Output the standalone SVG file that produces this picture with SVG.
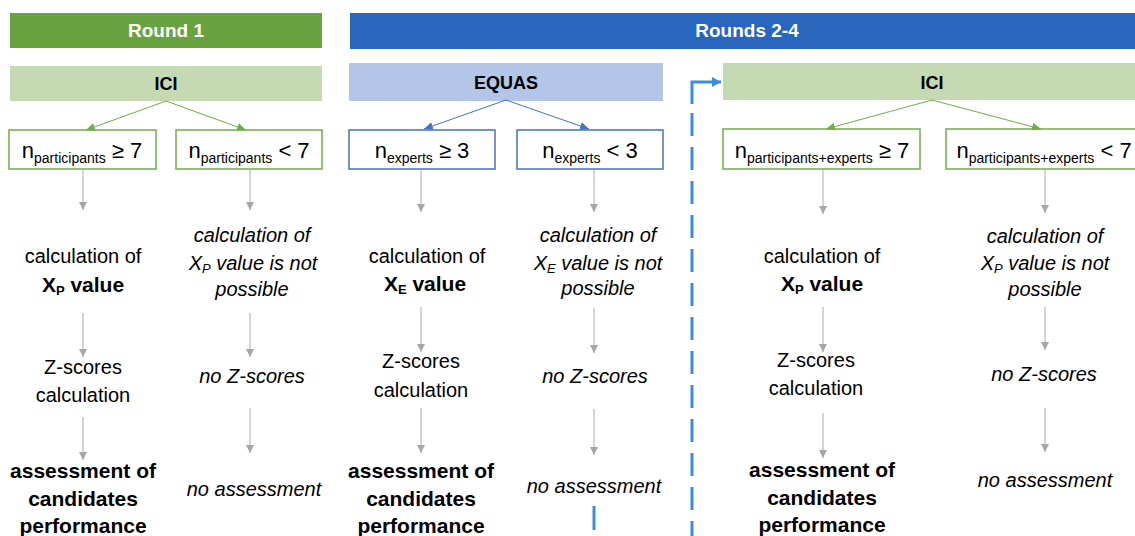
<svg xmlns="http://www.w3.org/2000/svg" width="1135" height="536" viewBox="0 0 1135 536">
<defs>
<style>
.t{font-family:"Liberation Sans",Arial,sans-serif;fill:#000;text-anchor:middle}
.r{font-size:20px}
.b{font-size:21px;font-weight:bold}
.i{font-size:20px;font-style:italic}
.hd{font-family:"Liberation Sans",Arial,sans-serif;font-size:19px;font-weight:bold;fill:#fff;text-anchor:middle}
.sh{font-family:"Liberation Sans",Arial,sans-serif;font-size:18px;font-weight:bold;fill:#000;text-anchor:middle}
.bx{font-size:22px}
.sub{font-size:14px}
.gb{fill:#fff;stroke:#70AD47;stroke-width:1.5}
.bb{fill:#fff;stroke:#4472C4;stroke-width:1.5}
.gl{stroke:#70AD47;stroke-width:1;fill:none}
.bl{stroke:#4472C4;stroke-width:1;fill:none}
.gr{stroke:#BDBDBD;stroke-width:1.3;fill:none}
.ds{stroke:#3B8ED9;stroke-width:3;fill:none}
</style>
<marker id="mg" markerUnits="userSpaceOnUse" markerWidth="9" markerHeight="8" refX="9" refY="4" orient="auto"><path d="M0,0 L9,4 L0,8 z" fill="#70AD47"/></marker>
<marker id="mb" markerUnits="userSpaceOnUse" markerWidth="9" markerHeight="8" refX="9" refY="4" orient="auto"><path d="M0,0 L9,4 L0,8 z" fill="#4472C4"/></marker>
<marker id="mgr" markerUnits="userSpaceOnUse" markerWidth="8" markerHeight="8" refX="8" refY="4" orient="auto"><path d="M0,0 L8,4 L0,8 z" fill="#A6A6A6"/></marker>
<marker id="md" markerUnits="userSpaceOnUse" markerWidth="9" markerHeight="10" refX="9" refY="5" orient="auto"><path d="M0,0 L9,5 L0,10 z" fill="#3B8ED9"/></marker>
</defs>
<rect width="1135" height="536" fill="#fff"/>

<g id="round1-header">
<rect x="10" y="13" width="312" height="35" fill="#69A33F"/>
<text class="hd" x="166" y="37">Round 1</text>
</g>
<g id="rounds24-header">
<rect x="350" y="13" width="790" height="36" fill="#2966C0"/>
<text class="hd" x="747" y="37">Rounds 2-4</text>
</g>

<g id="ici1">
<rect x="10" y="66" width="312" height="35" fill="#C5D9B2"/>
<text class="sh" x="166" y="90">ICI</text>
</g>
<g id="equas">
<rect x="349" y="63" width="314" height="38" fill="#B4C6E7"/>
<text class="sh" x="506" y="89">EQUAS</text>
</g>
<g id="ici2">
<rect x="723" y="63" width="416" height="37" fill="#C5D9B2"/>
<text class="sh" x="932" y="89">ICI</text>
</g>

<g id="c1">
<rect class="gb" x="9" y="130" width="147" height="39"/>
<text class="t bx" x="82" y="158">n<tspan class="sub" dy="5">participants</tspan><tspan dy="-5"> ≥ 7</tspan></text>
</g>
<g id="c2">
<rect class="gb" x="176" y="130" width="146" height="39"/>
<text class="t bx" x="249" y="158">n<tspan class="sub" dy="5">participants</tspan><tspan dy="-5"> &lt; 7</tspan></text>
</g>
<g id="c3">
<rect class="bb" x="349" y="130" width="146" height="39"/>
<text class="t bx" x="422" y="158">n<tspan class="sub" dy="5">experts</tspan><tspan dy="-5"> ≥ 3</tspan></text>
</g>
<g id="c4">
<rect class="bb" x="517" y="130" width="146" height="39"/>
<text class="t bx" x="590" y="158">n<tspan class="sub" dy="5">experts</tspan><tspan dy="-5"> &lt; 3</tspan></text>
</g>
<g id="c5">
<rect class="gb" x="723" y="129" width="197" height="40"/>
<text class="t bx" x="822" y="158">n<tspan class="sub" dy="5">participants+experts</tspan><tspan dy="-5"> ≥ 7</tspan></text>
</g>
<g id="c6">
<rect class="gb" x="946" y="129" width="194" height="40"/>
<text class="t bx" x="1044" y="158">n<tspan class="sub" dy="5">participants+experts</tspan><tspan dy="-5"> &lt; 7</tspan></text>
</g>

<g id="col1-texts">
<text class="t r" x="83" y="263">calculation of</text>
<text class="t b" x="83" y="292">X<tspan font-size="13" dy="3">P</tspan><tspan dy="-3"> value</tspan></text>
<text class="t r" x="83" y="374">Z-scores</text>
<text class="t r" x="83" y="402">calculation</text>
<text class="t b" x="83" y="478">assessment of</text>
<text class="t b" x="83" y="506">candidates</text>
<text class="t b" x="83" y="533">performance</text>
</g>
<g id="col2-texts">
<text class="t i" x="252" y="242">calculation of</text>
<text class="t i" x="253" y="270">X<tspan font-size="13" dy="3">P</tspan><tspan dy="-3"> value is not</tspan></text>
<text class="t i" x="252" y="296">possible</text>
<text class="t i" x="252" y="383">no Z-scores</text>
<text class="t i" x="254" y="496">no assessment</text>
</g>
<g id="col3-texts">
<text class="t r" x="427" y="263">calculation of</text>
<text class="t b" x="425" y="291">X<tspan font-size="13" dy="3">E</tspan><tspan dy="-3"> value</tspan></text>
<text class="t r" x="421" y="368">Z-scores</text>
<text class="t r" x="421" y="397">calculation</text>
<text class="t b" x="421" y="478">assessment of</text>
<text class="t b" x="421" y="506">candidates</text>
<text class="t b" x="421" y="533">performance</text>
</g>
<g id="col4-texts">
<text class="t i" x="598" y="242">calculation of</text>
<text class="t i" x="598" y="270">X<tspan font-size="13" dy="3">E</tspan><tspan dy="-3"> value is not</tspan></text>
<text class="t i" x="598" y="295">possible</text>
<text class="t i" x="595" y="383">no Z-scores</text>
<text class="t i" x="594" y="493">no assessment</text>
</g>
<g id="col5-texts">
<text class="t r" x="822" y="263">calculation of</text>
<text class="t b" x="822" y="291">X<tspan font-size="13" dy="3">P</tspan><tspan dy="-3"> value</tspan></text>
<text class="t r" x="816" y="367">Z-scores</text>
<text class="t r" x="816" y="395">calculation</text>
<text class="t b" x="822" y="477">assessment of</text>
<text class="t b" x="822" y="505">candidates</text>
<text class="t b" x="822" y="532">performance</text>
</g>
<g id="col6-texts">
<text class="t i" x="1045" y="243">calculation of</text>
<text class="t i" x="1045" y="270">X<tspan font-size="13" dy="3">P</tspan><tspan dy="-3"> value is not</tspan></text>
<text class="t i" x="1045" y="296">possible</text>
<text class="t i" x="1044" y="381">no Z-scores</text>
<text class="t i" x="1045" y="487">no assessment</text>
</g>

<g id="connectors">
<line class="gl" x1="166" y1="101" x2="86" y2="130" marker-end="url(#mg)"/>
<line class="gl" x1="166" y1="101" x2="246" y2="130" marker-end="url(#mg)"/>
<line class="bl" x1="506" y1="100" x2="424" y2="129" marker-end="url(#mb)"/>
<line class="bl" x1="506" y1="100" x2="589" y2="129" marker-end="url(#mb)"/>
<line class="gl" x1="932" y1="100" x2="826" y2="129" marker-end="url(#mg)"/>
<line class="gl" x1="932" y1="100" x2="1041" y2="129" marker-end="url(#mg)"/>

<line class="gr" x1="83" y1="170" x2="83" y2="210" marker-end="url(#mgr)"/>
<line class="gr" x1="83" y1="313" x2="83" y2="357" marker-end="url(#mgr)"/>
<line class="gr" x1="83" y1="417" x2="83" y2="460" marker-end="url(#mgr)"/>
<line class="gr" x1="250" y1="170" x2="250" y2="210" marker-end="url(#mgr)"/>
<line class="gr" x1="250" y1="313" x2="250" y2="357" marker-end="url(#mgr)"/>
<line class="gr" x1="250" y1="408" x2="250" y2="453" marker-end="url(#mgr)"/>
<line class="gr" x1="421" y1="170" x2="421" y2="212" marker-end="url(#mgr)"/>
<line class="gr" x1="421" y1="307" x2="421" y2="352" marker-end="url(#mgr)"/>
<line class="gr" x1="421" y1="408" x2="421" y2="453" marker-end="url(#mgr)"/>
<line class="gr" x1="594" y1="170" x2="594" y2="212" marker-end="url(#mgr)"/>
<line class="gr" x1="594" y1="308" x2="594" y2="353" marker-end="url(#mgr)"/>
<line class="gr" x1="594" y1="409" x2="594" y2="455" marker-end="url(#mgr)"/>
<line class="gr" x1="823" y1="170" x2="823" y2="214" marker-end="url(#mgr)"/>
<line class="gr" x1="823" y1="307" x2="823" y2="352" marker-end="url(#mgr)"/>
<line class="gr" x1="823" y1="413" x2="823" y2="458" marker-end="url(#mgr)"/>
<line class="gr" x1="1045" y1="170" x2="1045" y2="213" marker-end="url(#mgr)"/>
<line class="gr" x1="1045" y1="307" x2="1045" y2="350" marker-end="url(#mgr)"/>
<line class="gr" x1="1045" y1="408" x2="1045" y2="452" marker-end="url(#mgr)"/>

<path class="ds" d="M692,104 V82 H721" marker-end="url(#md)"/>
<line class="ds" x1="692" y1="113" x2="692" y2="536" stroke-dasharray="23 11"/>
<line class="ds" x1="594" y1="506" x2="594" y2="536" stroke-dasharray="24 11"/>
</g>
</svg>
